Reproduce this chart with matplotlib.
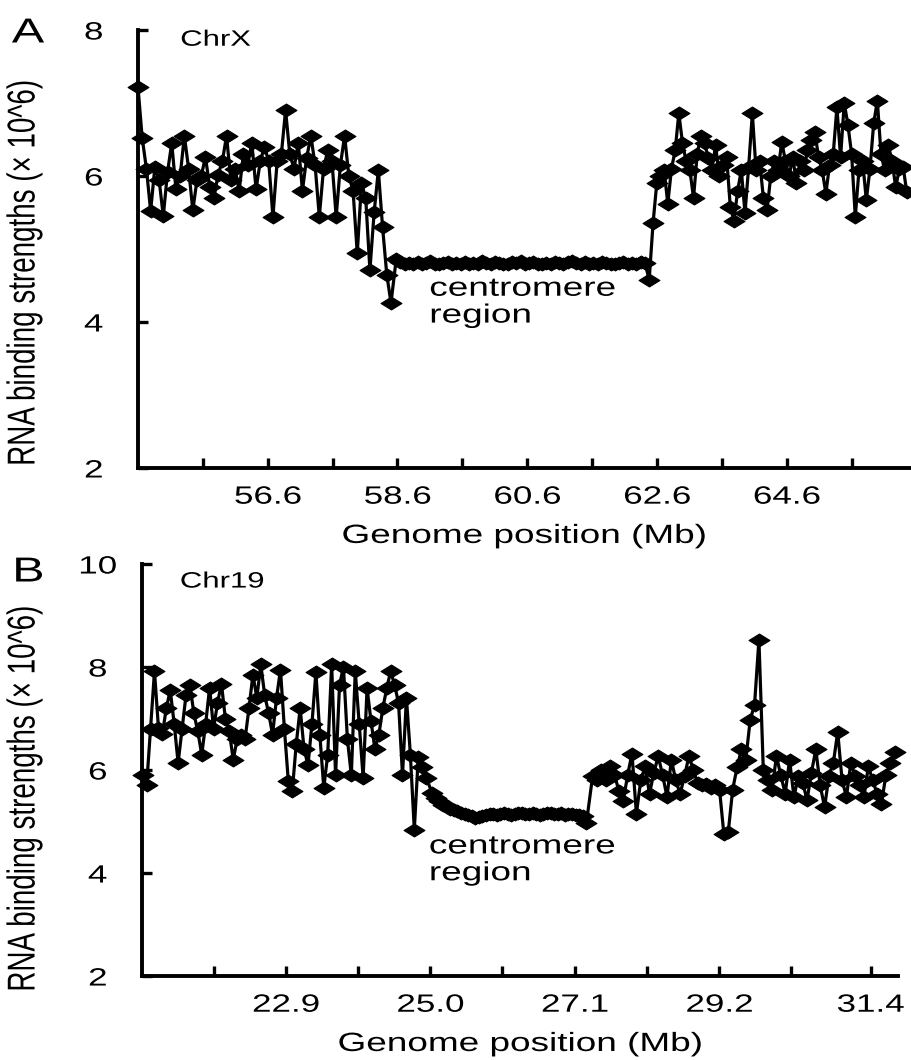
import numpy as np
import matplotlib
matplotlib.use('Agg')
import matplotlib.pyplot as plt
from matplotlib.path import Path
from matplotlib.patheffects import AbstractPathEffect
from matplotlib.transforms import Affine2D

plt.rcParams['font.family'] = ['Liberation Sans', 'DejaVu Sans']

# panel A, ChrX (x 10^6)
a_left = [7.22, 6.52, 6.1, 5.52, 6.12, 5.95, 5.45, 6.05, 6.45, 5.82, 6.0, 6.55, 6.1, 5.53,
          5.95, 6.0, 6.26, 5.85, 5.7, 6.02, 6.2, 6.55, 5.95, 6.1, 5.8, 6.3, 6.15, 6.45, 5.82,
          6.2, 6.4, 6.2, 5.44, 6.2, 6.3, 6.9, 6.3, 6.1, 6.45, 5.8, 6.25, 6.55, 6.15, 5.44,
          6.1, 6.35, 6.2, 5.44, 6.15, 6.55, 6.0, 5.8, 4.94, 5.9, 5.7, 4.71, 5.5, 6.08, 5.3,
          4.65, 4.26]
a_flat = [4.86, 4.82, 4.80, 4.81, 4.79, 4.82, 4.80, 4.81, 4.83, 4.80, 4.79, 4.81, 4.82, 4.80,
          4.81, 4.80, 4.82, 4.79, 4.81, 4.80, 4.83, 4.81, 4.80, 4.82, 4.81, 4.79, 4.80, 4.82,
          4.81, 4.83, 4.80, 4.81, 4.82, 4.80, 4.79, 4.81, 4.80, 4.82, 4.81, 4.80, 4.82, 4.83,
          4.81, 4.80, 4.82, 4.79, 4.81, 4.80, 4.82, 4.81, 4.80, 4.79, 4.81, 4.82, 4.80, 4.81,
          4.80, 4.82, 4.81, 4.58]
a_right = [5.36, 5.9, 6.0, 6.08, 5.62, 6.1, 6.35, 6.86, 6.45, 6.2, 6.08, 5.7, 6.3, 6.55, 6.45,
           6.25, 6.08, 6.42, 6.0, 6.15, 6.26, 5.58, 5.39, 5.8, 6.08, 5.49, 6.13, 6.86, 6.08,
           6.2, 5.7, 5.53, 6.0, 6.2, 6.08, 6.47, 6.2, 6.0, 6.26, 5.9, 6.2, 6.08, 6.35, 6.49,
           6.6, 6.26, 6.08, 5.76, 6.15, 6.3, 6.94, 6.26, 7.0, 6.7, 6.3, 5.44, 6.08, 6.2, 5.67,
           6.1, 6.72, 7.03, 6.3, 6.08, 6.42, 6.2, 5.85, 6.1, 6.13, 5.78]
a_spans = [(54.6, 58.5), (58.58, 62.48), (62.54, 66.45)]
a_ticklabels = ['56.6', '58.6', '60.6', '62.6', '64.6']
a_minor = [55.6, 57.6, 59.6, 61.6, 63.6, 65.6]

# panel B, Chr19
b_left = [5.9, 5.7, 6.8, 7.92, 6.82, 6.7, 7.2, 7.55, 6.9, 6.14, 6.8, 7.45, 7.65, 7.1, 6.75,
          6.3, 6.9, 7.6, 6.8, 7.3, 7.68, 7.0, 6.75, 6.2, 6.6, 6.69, 6.6, 7.2, 7.85, 7.4, 8.05,
          7.45, 7.1, 6.69, 7.4, 7.95, 6.8, 5.78, 5.59, 6.5, 7.2, 6.4, 6.1, 6.9, 7.9, 6.69,
          5.65, 6.3, 8.05, 5.9, 7.65, 8.0, 6.6, 5.9, 7.92, 6.9, 5.85, 7.59, 6.95, 6.4, 6.69,
          7.2, 7.59, 7.92, 7.65, 7.3, 5.9, 7.4, 6.3, 4.84, 6.25, 6.05, 5.85]
b_flat = [5.55, 5.45, 5.39, 5.33, 5.3, 5.25, 5.22, 5.2, 5.17, 5.15, 5.12, 5.1, 5.07, 5.09, 5.1,
          5.12, 5.14, 5.15, 5.13, 5.14, 5.16, 5.15, 5.13, 5.14, 5.16, 5.17, 5.15, 5.14, 5.16,
          5.15, 5.13, 5.15, 5.17, 5.16, 5.14, 5.15, 5.16, 5.13, 5.15, 5.14, 5.12, 5.13, 5.1,
          4.97]
b_right = [5.88, 5.8, 6.01, 5.8, 6.07, 5.9, 5.6, 5.4, 5.9, 6.32, 5.15, 5.8, 6.07, 5.54, 5.95,
           6.27, 5.9, 5.48, 6.2, 5.8, 5.54, 5.88, 6.27, 6.01, 5.74, 5.7, 5.72, 5.65, 5.7, 5.62,
           4.75, 4.8, 5.62, 6.05, 6.4, 6.2, 6.97, 7.27, 8.53, 6.01, 5.8, 5.62, 6.27, 5.9, 5.54,
           6.2, 5.48, 5.88, 5.75, 5.42, 5.95, 6.4, 5.7, 5.28, 5.88, 6.14, 6.74, 5.8, 5.48,
           6.14, 5.88, 5.7, 5.48, 6.07, 5.8, 5.54, 5.35, 5.9, 6.14, 6.35]
b_spans = [(20.82, 24.94), (25.03, 27.27), (27.36, 31.75)]
b_ticklabels = ['22.9', '25.0', '27.1', '29.2', '31.4']
b_minor = [21.85, 23.95, 26.05, 28.15, 30.25]


# the original figure is stretched sideways, text included
class Widen(AbstractPathEffect):
    def __init__(self, sx=1.4, anchor='center'):
        super().__init__()
        self.sx = sx
        self.anchor = anchor

    def draw_path(self, renderer, gc, tpath, affine, rgbFace=None):
        pts = affine.transform(tpath.vertices)
        if len(pts):
            if self.anchor == 'left':
                x0 = pts[:, 0].min()
            else:
                x0 = (pts[:, 0].min() + pts[:, 0].max()) / 2
            affine = affine + Affine2D().translate(-x0, 0).scale(self.sx, 1).translate(x0, 0)
        renderer.draw_path(gc, tpath, affine, rgbFace)


diamond = Path([(-1, 0), (0, 0.62), (1, 0), (0, -0.62), (-1, 0)],
               [Path.MOVETO, Path.LINETO, Path.LINETO, Path.LINETO, Path.CLOSEPOLY])

fig = plt.figure(figsize=(9.12, 10.6), dpi=100)
axA = fig.add_axes([0.1513, 0.5585, 0.8465, 0.4132])
axB = fig.add_axes([0.1557, 0.0792, 0.829, 0.3887])


def draw(ax, segs, spans, ylim, yticks, labels, minor, xlim, chrom, chrpos, cen, ylab_xy):
    x = np.concatenate([np.linspace(lo, hi, len(s)) for s, (lo, hi) in zip(segs, spans)])
    y = np.concatenate(segs)
    ax.plot(x, y, color='black', lw=2.3, marker=diamond, ms=15, mfc='black', mec='black',
            mew=0.8, clip_on=False)
    ax.set_xlim(*xlim)
    ax.set_ylim(*ylim)
    ax.set_yticks(yticks)
    ax.set_xticks([float(t) for t in labels])
    ax.set_xticklabels(labels)
    ax.set_xticks(minor, minor=True)
    for s in ['top', 'right']:
        ax.spines[s].set_visible(False)
    for s in ['left', 'bottom']:
        ax.spines[s].set_linewidth(2.8)
    ax.tick_params(which='both', direction='in', length=7, width=2.4, labelsize=18)
    ax.tick_params(axis='x', pad=12)
    ax.tick_params(axis='y', pad=32)
    for t in ax.get_yticklabels():
        t.set_horizontalalignment('center')
    for t in ax.get_xticklabels() + ax.get_yticklabels():
        t.set_path_effects([Widen()])
    xl = ax.set_xlabel('Genome position (Mb)', fontsize=19, labelpad=11)
    yl = ax.set_ylabel('RNA binding strengths (× 10^6)', fontsize=20)
    ax.yaxis.set_label_coords(*ylab_xy)
    xl.set_path_effects([Widen()])
    yl.set_path_effects([Widen()])
    t1 = ax.text(chrpos[0], chrpos[1], chrom, fontsize=16, va='center', ha='left')
    t2 = ax.text(cen[0], cen[1], 'centromere\nregion', fontsize=19, va='top', ha='left',
                 linespacing=1.15)
    t1.set_path_effects([Widen(anchor='left')])
    t2.set_path_effects([Widen(anchor='left')])


draw(axA, [a_left, a_flat, a_right], a_spans, (2, 8), [2, 4, 6, 8], a_ticklabels, a_minor,
     (54.6, 66.5), 'ChrX', (55.25, 7.86), (59.09, 4.62), (-0.13, 0.445))
draw(axB, [b_left, b_flat, b_right], b_spans, (2, 10), [2, 4, 6, 8, 10], b_ticklabels, b_minor,
     (20.81, 31.8), 'Chr19', (21.36, 9.65), (24.98, 4.75), (-0.138, 0.43))

for letter, yy in [('A', 1 - 33 / 1060), ('B', 1 - 572 / 1060)]:
    t = fig.text(28 / 912, yy, letter, fontsize=25, ha='center', va='center')
    t.set_path_effects([Widen()])

fig.savefig('out.png', dpi=100)
